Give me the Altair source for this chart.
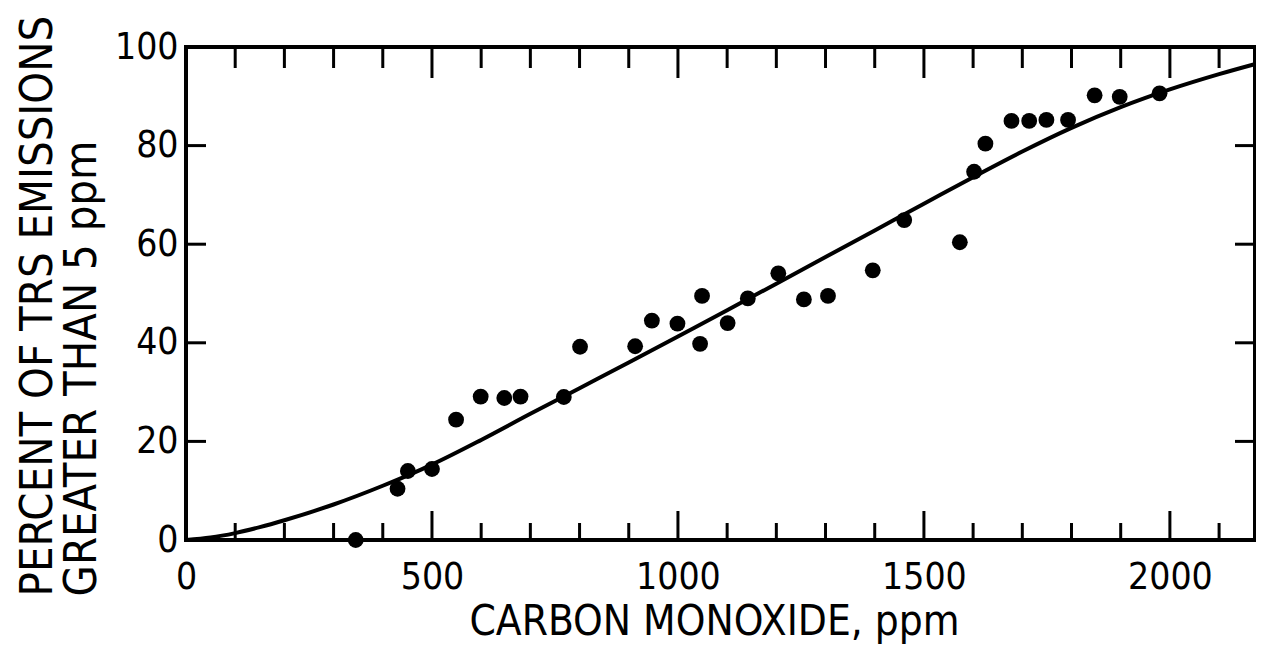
import altair as alt
import pandas as pd

# Scatter data
co_ppm = [345, 430, 451, 500, 549, 599, 647, 680, 768, 801, 913, 947, 999, 1045, 1049,
          1101, 1142, 1204, 1256, 1305, 1396, 1460, 1573, 1602, 1625, 1678, 1714, 1749,
          1793, 1847, 1898, 1979]
pct_trs = [0, 10.4, 14.0, 14.4, 24.4, 29.1, 28.8, 29.1, 29.0, 39.2, 39.3, 44.5, 43.9, 39.8,
           49.5, 44.0, 49.0, 54.1, 48.8, 49.5, 54.7, 64.9, 60.4, 74.7, 80.4, 85.0, 85.0, 85.2,
           85.2, 90.2, 89.9, 90.6]

# Fitted curve
curve_x = [0, 50, 100, 150, 200, 300, 400, 500, 600, 700, 800, 900, 1000, 1100, 1200, 1300,
           1400, 1500, 1600, 1700, 1800, 1900, 2000, 2100, 2190]
curve_y = [0, 0.5, 1.4, 2.6, 4.0, 7.2, 11.0, 15.3, 20.3, 25.6, 30.8, 36.0, 41.3, 46.6, 52.0,
           57.4, 62.8, 68.2, 73.6, 78.8, 83.6, 87.8, 91.4, 94.5, 97.0]

# Tick values
x_labels = [0, 500, 1000, 1500, 2000]
x_minor = [100, 200, 300, 400, 600, 700, 800, 900, 1100, 1200, 1300, 1400, 1600, 1700,
           1800, 1900, 2100]
x_major = [500, 1000, 1500, 2000]
y_labels = [0, 20, 40, 60, 80, 100]
y_ticks = [20, 40, 60, 80]

y_title = ["PERCENT OF TRS EMISSIONS", "GREATER THAN 5 ppm"]
x_title = "CARBON MONOXIDE, ppm"

FONT = "Liberation Sans Narrow, DejaVu Sans Condensed, Liberation Sans, sans-serif"
W, H = 1069, 493

xscale = alt.Scale(domain=[0, 2173], nice=False, zero=False)
yscale = alt.Scale(domain=[0, 100], nice=False)

pts = pd.DataFrame({"co": co_ppm, "pct": pct_trs})
crv = pd.DataFrame({"co": curve_x, "pct": curve_y})

x_axis = alt.Axis(values=x_labels, format="d", labelFontSize=37, labelPadding=19,
                  labelFlush=False, labelOverlap=False, title=x_title, titleFontSize=42,
                  titleX=528, titleY=94, titleBaseline="alphabetic", titleAlign="center")
y_axis = alt.Axis(values=y_labels, format="d", labelFontSize=37, labelPadding=8,
                  labelOverlap=False, labelFlush=False,
                  title=y_title, titleFontSize=45,
                  titleX=-149, titleY=549, titleBaseline="middle", titleAlign="left",
                  titleLineHeight=44)

points = alt.Chart(pts).mark_circle(size=250, color="black", opacity=1).encode(
    x=alt.X("co:Q", scale=xscale, axis=x_axis),
    y=alt.Y("pct:Q", scale=yscale, axis=y_axis),
)

line = alt.Chart(crv).mark_line(color="black", strokeWidth=4, interpolate="monotone",
                                clip=True).encode(
    x=alt.X("co:Q", scale=xscale, axis=x_axis),
    y=alt.Y("pct:Q", scale=yscale, axis=y_axis),
)

minor_df = pd.DataFrame({"v": x_minor})
major_df = pd.DataFrame({"v": x_major})
yt_df = pd.DataFrame({"v": y_ticks})


def xticks(df, y0, y1):
    return alt.Chart(df).mark_rule(color="black", strokeWidth=3).encode(
        x=alt.X("v:Q", scale=xscale, axis=x_axis),
        y=alt.value(y0), y2=alt.value(y1),
    )


def yticks(x0, x1):
    return alt.Chart(yt_df).mark_rule(color="black", strokeWidth=3).encode(
        y=alt.Y("v:Q", scale=yscale, axis=y_axis),
        x=alt.value(x0), x2=alt.value(x1),
    )


layers = [
    points,
    line,
    xticks(minor_df, H, H - 17),
    xticks(major_df, H, H - 29),
    xticks(minor_df, 0, 21),
    xticks(major_df, 0, 31),
    yticks(0, 20),
    yticks(W, W - 20),
]

chart = alt.layer(*layers).properties(
    width=W, height=H,
    autosize=alt.AutoSizeParams(type="none"),
    padding={"left": 178, "top": 39, "right": 1, "bottom": 104},
).configure_view(
    stroke="black", strokeWidth=4
).configure_axis(
    labelFont=FONT, titleFont=FONT, labelColor="black", titleColor="black",
    grid=False, domain=False, ticks=False, titleFontWeight="normal",
)

chart.save("out.html", embed_options={"renderer": "svg", "actions": False})
